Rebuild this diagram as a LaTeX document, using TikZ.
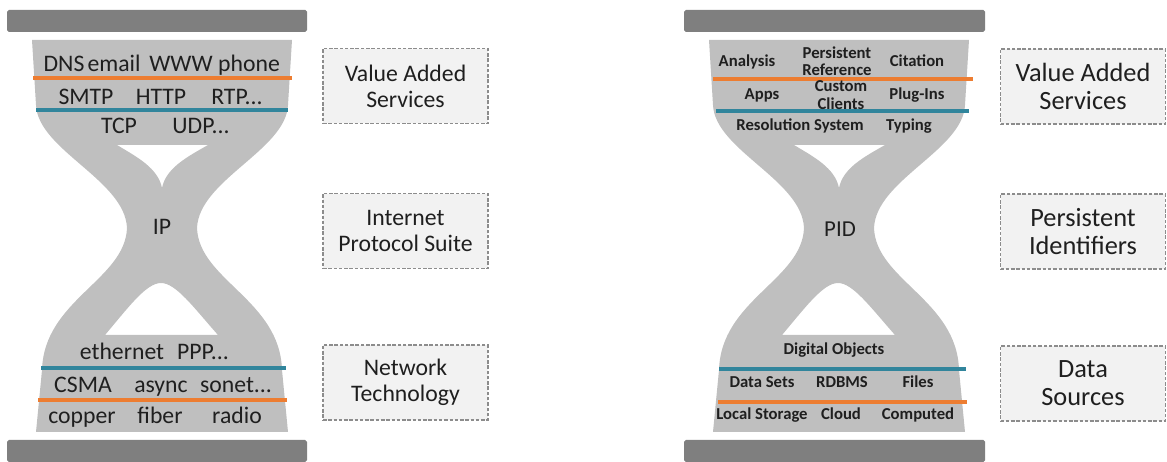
\documentclass[tikz,border=0pt]{standalone}
\usepackage{fontspec}
\setmainfont{Carlito}
\usetikzlibrary{positioning}

\definecolor{bargray}{HTML}{7F7F7F}
\definecolor{glassgray}{HTML}{BFBFBF}
\definecolor{boxfill}{HTML}{F2F2F2}
\definecolor{boxline}{HTML}{8C8C8C}
\definecolor{lineorange}{HTML}{ED7D31}
\definecolor{lineblue}{HTML}{31859C}

% outline of one hourglass (pixel units), holes cut by even odd rule
\newcommand{\glasspath}{(32,40) -- (292,40) -- (288,105)
  .. controls (286,150) and (199,180) .. (197,228)
  .. controls (199,280) and (280,300) .. (282,370) -- (288,432) -- (36,432) -- (42,370)
  .. controls (44,300) and (125,280) .. (127,228)
  .. controls (125,180) and (38,150) .. (36,105) -- cycle
  (117,145) -- (208,145) .. controls (187,157) and (166,168) .. (162,188)
  .. controls (158,168) and (137,157) .. (117,145) -- cycle
  (105,335) .. controls (128,308) and (146,283) .. (161,283)
  .. controls (176,283) and (194,308) .. (218,335) -- cycle}

\begin{document}
\begin{tikzpicture}[x=0.02cm,y=-0.02cm]

\useasboundingbox (0,0) rectangle (1167,462);

\tikzstyle{bar}=[fill=bargray, rounded corners=1pt]
\tikzstyle{glass}=[fill=glassgray, even odd rule]
\tikzstyle{sep}=[line width=2pt]
\tikzstyle{netitem}=[font=\fontsize{13.5}{15}\selectfont, text=black!88, inner sep=0pt, anchor=base]
\tikzstyle{piditem}=[font=\bfseries\fontsize{9.5}{9.8}\selectfont, text=black!88, inner sep=0pt, align=center]
\tikzstyle{sidebox}=[draw=boxline, dash pattern=on 2pt off 1pt, line width=0.7pt, fill=boxfill,
  minimum width=3.3cm, minimum height=1.5cm, align=center, text=black!88]

% Internet hourglass
\fill[bar] (7,10) rectangle (307,32);
\fill[bar] (7,440) rectangle (307,462);
\fill[glass] \glasspath;
\draw[sep, lineorange] (33,78) -- (292,78);
\draw[sep, lineblue] (36,110) -- (288,110);
\draw[sep, lineblue] (41,368) -- (286,368);
\draw[sep, lineorange] (38,400) -- (287,400);

\node[netitem] (dns) at (64,72) {DNS};
\node[netitem] (email) at (114,72) {email};
\node[netitem] (www) at (181,72) {WWW};
\node[netitem] (phone) at (249,72) {phone};
\node[netitem] (smtp) at (86,105) {SMTP};
\node[netitem] (http) at (161,105) {HTTP};
\node[netitem] (rtp) at (237,105) {RTP...};
\node[netitem] (tcp) at (119,134) {TCP};
\node[netitem] (udp) at (201,134) {UDP...};
\node[netitem] (ip) at (162,235) {IP};
\node[netitem] (ether) at (122,360) {ethernet};
\node[netitem] (ppp) at (203,360) {PPP...};
\node[netitem] (csma) at (83,393) {CSMA};
\node[netitem] (async) at (161,393) {async};
\node[netitem] (sonet) at (236,393) {sonet...};
\node[netitem] (copper) at (82,424) {copper};
\node[netitem] (fiber) at (160,424) {fiber};
\node[netitem] (radio) at (237,424) {radio};

\node[sidebox, font=\fontsize{13.5}{14.7}\selectfont] (netvas) at (405.5,86) {Value Added\\Services};
\node[sidebox, font=\fontsize{13.5}{14.7}\selectfont] (netips) at (405.5,231) {Internet\\Protocol Suite};
\node[sidebox, font=\fontsize{13.5}{14.7}\selectfont] (nettech) at (405.5,382.5) {Network\\Technology};

% PID hourglass
\fill[bar] (684,10) rectangle (985,32);
\fill[bar] (684,440) rectangle (985,462);
\begin{scope}[shift={(677,0)}]
\fill[glass] \glasspath;
\end{scope}
\draw[sep, lineorange] (713,79) -- (973,79);
\draw[sep, lineblue] (716,111) -- (969,111);
\draw[sep, lineblue] (719,369) -- (966,369);
\draw[sep, lineorange] (718,402) -- (967,402);

\node[piditem, anchor=base] (analysis) at (747,67) {Analysis};
\node[piditem] (persref) at (837,61) {Persistent\\Reference};
\node[piditem, anchor=base] (citation) at (917,67) {Citation};
\node[piditem, anchor=base] (apps) at (762,100) {Apps};
\node[piditem] (custom) at (841,95) {Custom\\Clients};
\node[piditem, anchor=base] (plugins) at (917,100) {Plug-Ins};
\node[piditem, anchor=base] (resol) at (800,131) {Resolution System};
\node[piditem, anchor=base] (typing) at (909,131) {Typing};
\node[netitem, font=\fontsize{13}{14}\selectfont] (pid) at (840,237) {PID};
\node[piditem, anchor=base] (digobj) at (834,355) {Digital Objects};
\node[piditem, anchor=base] (datasets) at (762,388) {Data Sets};
\node[piditem, anchor=base] (rdbms) at (842,388) {RDBMS};
\node[piditem, anchor=base] (files) at (918,388) {Files};
\node[piditem, anchor=base] (local) at (762,420) {Local Storage};
\node[piditem, anchor=base] (cloud) at (841,420) {Cloud};
\node[piditem, anchor=base] (computed) at (918,420) {Computed};

\node[sidebox, font=\fontsize{15}{15.9}\selectfont] (pidvas) at (1083,86.5) {Value Added\\Services};
\node[sidebox, font=\fontsize{15}{15.9}\selectfont] (pidpids) at (1083,231.5) {Persistent\\Identifiers};
\node[sidebox, font=\fontsize{15}{15.9}\selectfont] (pidsrc) at (1083,383.5) {Data\\Sources};

\end{tikzpicture}
\end{document}
